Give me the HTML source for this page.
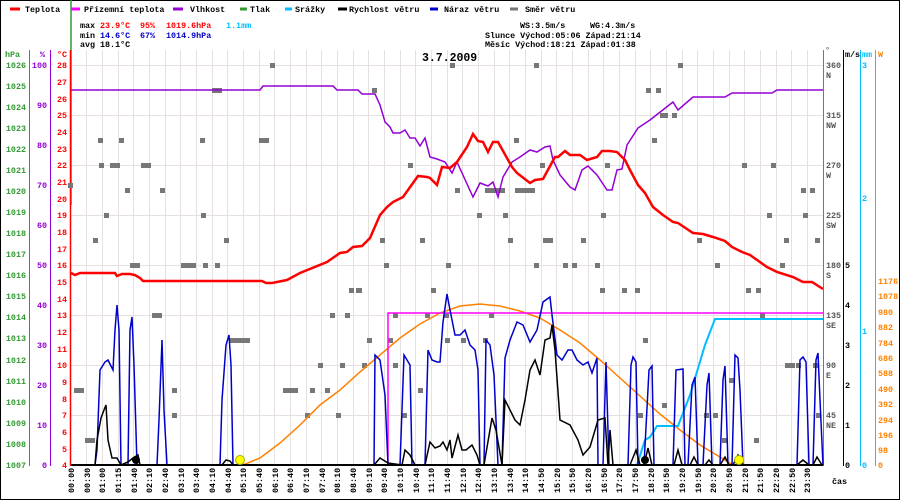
<!DOCTYPE html>
<html><head><meta charset="utf-8"><style>
html,body{margin:0;padding:0;background:#fff}
svg{display:block}
text{font-family:"Liberation Mono",monospace;font-size:8.4px;font-weight:bold}
</style></head><body>
<svg width="900" height="500" viewBox="0 0 900 500" xmlns="http://www.w3.org/2000/svg">
<rect x="0.5" y="0.5" width="899" height="499" fill="#fff" stroke="#000"/>
<!-- grid -->
<g stroke="#e6e0e0" stroke-width="1">
<path d="M86.5 50V465M102.5 50V465M118.5 50V465M133.5 50V465M149.5 50V465M165.5 50V465M180.5 50V465M196.5 50V465M212.5 50V465M227.5 50V465M243.5 50V465M259.5 50V465M274.5 50V465M290.5 50V465M306.5 50V465M321.5 50V465M337.5 50V465M353.5 50V465M368.5 50V465M384.5 50V465M400.5 50V465M415.5 50V465M431.5 50V465M447.5 50V465M462.5 50V465M478.5 50V465M494.5 50V465M509.5 50V465M525.5 50V465M541.5 50V465M556.5 50V465M572.5 50V465M588.5 50V465M603.5 50V465M619.5 50V465M635.5 50V465M650.5 50V465M666.5 50V465M682.5 50V465M697.5 50V465M713.5 50V465M729.5 50V465M744.5 50V465M760.5 50V465M776.5 50V465M791.5 50V465M807.5 50V465"/>
<path d="M71 65.5H823M71 115.5H823M71 165.5H823M71 215.5H823M71 265.5H823M71 315.5H823M71 365.5H823M71 415.5H823"/>
</g>
<!-- legend -->
<g stroke-width="3">
<line x1="10" y1="9" x2="20" y2="9" stroke="#f00"/>
<line x1="71" y1="9" x2="80" y2="9" stroke="#f0f"/>
<line x1="173" y1="9" x2="183" y2="9" stroke="#9400d3"/>
<line x1="240" y1="9" x2="247" y2="9" stroke="#339933"/>
<line x1="285" y1="9" x2="292" y2="9" stroke="#00bfff"/>
<line x1="338" y1="9" x2="347" y2="9" stroke="#000"/>
<line x1="430" y1="9" x2="438" y2="9" stroke="#0000cc"/>
<line x1="510" y1="9" x2="518" y2="9" stroke="#777"/>
</g>
<g fill="#000">
<text x="25" y="12">Teplota</text>
<text x="84" y="12">Přízemní teplota</text>
<text x="190" y="12">Vlhkost</text>
<text x="250" y="12">Tlak</text>
<text x="295" y="12">Srážky</text>
<text x="349" y="12">Rychlost větru</text>
<text x="444" y="12">Náraz větru</text>
<text x="525" y="12">Směr větru</text>
</g>
<line x1="71" y1="0" x2="71" y2="205" stroke="#339933" stroke-width="1.5"/>
<!-- stats -->
<text x="80" y="28">max</text><text x="100" y="28" fill="#f00">23.9°C</text><text x="140" y="28" fill="#f00">95%</text><text x="166" y="28" fill="#f00">1019.6hPa</text><text x="226" y="28" fill="#00bfff">1.1mm</text>
<text x="80" y="38">min</text><text x="100" y="38" fill="#00c">14.6°C</text><text x="140" y="38" fill="#00c">67%</text><text x="166" y="38" fill="#00c">1014.9hPa</text>
<text x="80" y="47">avg</text><text x="100" y="47">18.1°C</text>
<text x="520" y="28">WS:3.5m/s</text><text x="590" y="28">WG:4.3m/s</text>
<text x="485" y="38">Slunce Východ:05:06  Západ:21:14</text>
<text x="485" y="47">Měsíc  Východ:18:21  Západ:01:38</text>
<text x="422" y="61" style="font-size:11.5px;font-weight:bold">3.7.2009</text>
<!-- axes -->
<line x1="29.5" y1="50" x2="29.5" y2="466" stroke="#339933"/>
<line x1="50.5" y1="50" x2="50.5" y2="466" stroke="#9400d3"/>
<line x1="70.5" y1="50" x2="70.5" y2="466" stroke="#f00" stroke-width="1.5"/>
<line x1="823.5" y1="50" x2="823.5" y2="466" stroke="#777"/>
<line x1="843.5" y1="50" x2="843.5" y2="466" stroke="#000"/>
<line x1="860.5" y1="50" x2="860.5" y2="466" stroke="#00bfff"/>
<line x1="875.5" y1="50" x2="875.5" y2="466" stroke="#ff8000"/>
<text x="5" y="57" fill="#339933">hPa</text><text x="40" y="57" fill="#9400d3">%</text><text x="57" y="57" fill="#f00">°C</text>
<text x="825" y="53" fill="#777">°</text><text x="845" y="57">m/s</text><text x="862" y="57" fill="#00bfff">mm</text><text x="878" y="57" fill="#ff8000">W</text>
<g fill="#339933" text-anchor="end">
<text x="26" y="68">1026</text><text x="26" y="89">1025</text><text x="26" y="110">1024</text><text x="26" y="131">1023</text><text x="26" y="152">1022</text><text x="26" y="173">1021</text><text x="26" y="194">1020</text><text x="26" y="215">1019</text><text x="26" y="236">1018</text><text x="26" y="257">1017</text><text x="26" y="278">1016</text><text x="26" y="299">1015</text><text x="26" y="320">1014</text><text x="26" y="341">1013</text><text x="26" y="363">1012</text><text x="26" y="384">1011</text><text x="26" y="405">1010</text><text x="26" y="426">1009</text><text x="26" y="447">1008</text><text x="26" y="468">1007</text>
</g>
<g fill="#9400d3" text-anchor="end">
<text x="47" y="68">100</text><text x="47" y="108">90</text><text x="47" y="148">80</text><text x="47" y="188">70</text><text x="47" y="228">60</text><text x="47" y="268">50</text><text x="47" y="308">40</text><text x="47" y="348">30</text><text x="47" y="388">20</text><text x="47" y="428">10</text><text x="47" y="468">0</text>
</g>
<g fill="#f00" text-anchor="end">
<text x="67" y="68">28</text><text x="67" y="85">27</text><text x="67" y="102">26</text><text x="67" y="118">25</text><text x="67" y="135">24</text><text x="67" y="152">23</text><text x="67" y="168">22</text><text x="67" y="185">21</text><text x="67" y="202">20</text><text x="67" y="218">19</text><text x="67" y="235">18</text><text x="67" y="252">17</text><text x="67" y="268">16</text><text x="67" y="285">15</text><text x="67" y="302">14</text><text x="67" y="318">13</text><text x="67" y="335">12</text><text x="67" y="352">11</text><text x="67" y="368">10</text><text x="67" y="385">9</text><text x="67" y="402">8</text><text x="67" y="418">7</text><text x="67" y="435">6</text><text x="67" y="452">5</text><text x="67" y="468">4</text>
</g>
<g fill="#555">
<text x="826" y="68">360</text><text x="826" y="78">N</text>
<text x="826" y="118">315</text><text x="826" y="128">NW</text>
<text x="826" y="168">270</text><text x="826" y="178">W</text>
<text x="826" y="218">225</text><text x="826" y="228">SW</text>
<text x="826" y="268">180</text><text x="826" y="278">S</text>
<text x="826" y="318">135</text><text x="826" y="328">SE</text>
<text x="826" y="368">90</text><text x="826" y="378">E</text>
<text x="826" y="418">45</text><text x="826" y="428">NE</text>
</g>
<g>
<text x="845" y="268">5</text><text x="845" y="308">4</text><text x="845" y="348">3</text><text x="845" y="388">2</text><text x="845" y="428">1</text><text x="845" y="468">0</text>
</g>
<g fill="#00bfff"><text x="862" y="68">3</text><text x="862" y="201">2</text><text x="862" y="334">1</text><text x="862" y="468">0</text></g>
<g fill="#ff8000">
<text x="878" y="284">1176</text><text x="878" y="299">1078</text><text x="878" y="315">980</text><text x="878" y="330">882</text><text x="878" y="346">784</text><text x="878" y="361">686</text><text x="878" y="376">588</text><text x="878" y="392">490</text><text x="878" y="407">392</text><text x="878" y="423">294</text><text x="878" y="438">196</text><text x="878" y="453">98</text><text x="878" y="468">0</text>
</g>
<text x="832" y="484">čas</text>
<!-- wind direction -->
<g fill="#777">
<rect x="68" y="183" width="5" height="5"/><rect x="74" y="388" width="5" height="5"/><rect x="79" y="388" width="5" height="5"/><rect x="85" y="438" width="5" height="5"/><rect x="90" y="438" width="5" height="5"/><rect x="93" y="238" width="5" height="5"/><rect x="98" y="138" width="5" height="5"/><rect x="104" y="213" width="5" height="5"/><rect x="99" y="163" width="5" height="5"/><rect x="110" y="163" width="5" height="5"/><rect x="115" y="163" width="5" height="5"/><rect x="119" y="138" width="5" height="5"/><rect x="125" y="188" width="5" height="5"/><rect x="130" y="263" width="5" height="5"/><rect x="135" y="263" width="5" height="5"/><rect x="141" y="163" width="5" height="5"/><rect x="146" y="163" width="5" height="5"/><rect x="152" y="313" width="5" height="5"/><rect x="157" y="313" width="5" height="5"/><rect x="172" y="413" width="5" height="5"/><rect x="172" y="388" width="5" height="5"/><rect x="181" y="263" width="5" height="5"/><rect x="186" y="263" width="5" height="5"/><rect x="191" y="263" width="5" height="5"/><rect x="201" y="213" width="5" height="5"/><rect x="160" y="188" width="5" height="5"/><rect x="212" y="88" width="5" height="5"/><rect x="217" y="88" width="5" height="5"/><rect x="230" y="338" width="5" height="5"/><rect x="235" y="338" width="5" height="5"/><rect x="240" y="338" width="5" height="5"/><rect x="245" y="338" width="5" height="5"/><rect x="224" y="238" width="5" height="5"/><rect x="200" y="138" width="5" height="5"/><rect x="259" y="138" width="5" height="5"/><rect x="264" y="138" width="5" height="5"/><rect x="270" y="63" width="5" height="5"/><rect x="203" y="263" width="5" height="5"/><rect x="215" y="263" width="5" height="5"/><rect x="283" y="388" width="5" height="5"/><rect x="288" y="388" width="5" height="5"/><rect x="293" y="388" width="5" height="5"/><rect x="305" y="413" width="5" height="5"/><rect x="310" y="388" width="5" height="5"/><rect x="318" y="363" width="5" height="5"/><rect x="325" y="388" width="5" height="5"/><rect x="330" y="313" width="5" height="5"/><rect x="336" y="413" width="5" height="5"/><rect x="340" y="363" width="5" height="5"/><rect x="345" y="313" width="5" height="5"/><rect x="349" y="288" width="5" height="5"/><rect x="356" y="288" width="5" height="5"/><rect x="362" y="363" width="5" height="5"/><rect x="367" y="338" width="5" height="5"/><rect x="372" y="88" width="5" height="5"/><rect x="357" y="288" width="5" height="5"/><rect x="380" y="238" width="5" height="5"/><rect x="388" y="338" width="5" height="5"/><rect x="393" y="363" width="5" height="5"/><rect x="393" y="313" width="5" height="5"/><rect x="408" y="163" width="5" height="5"/><rect x="384" y="263" width="5" height="5"/><rect x="418" y="388" width="5" height="5"/><rect x="425" y="313" width="5" height="5"/><rect x="444" y="313" width="5" height="5"/><rect x="402" y="413" width="5" height="5"/><rect x="420" y="238" width="5" height="5"/><rect x="446" y="263" width="5" height="5"/><rect x="431" y="288" width="5" height="5"/><rect x="445" y="338" width="5" height="5"/><rect x="461" y="338" width="5" height="5"/><rect x="483" y="338" width="5" height="5"/><rect x="489" y="313" width="5" height="5"/><rect x="450" y="63" width="5" height="5"/><rect x="455" y="188" width="5" height="5"/><rect x="485" y="188" width="5" height="5"/><rect x="490" y="188" width="5" height="5"/><rect x="495" y="188" width="5" height="5"/><rect x="500" y="188" width="5" height="5"/><rect x="503" y="213" width="5" height="5"/><rect x="477" y="213" width="5" height="5"/><rect x="508" y="238" width="5" height="5"/><rect x="514" y="138" width="5" height="5"/><rect x="515" y="188" width="5" height="5"/><rect x="520" y="188" width="5" height="5"/><rect x="525" y="188" width="5" height="5"/><rect x="530" y="188" width="5" height="5"/><rect x="534" y="63" width="5" height="5"/><rect x="540" y="163" width="5" height="5"/><rect x="543" y="238" width="5" height="5"/><rect x="548" y="238" width="5" height="5"/><rect x="534" y="263" width="5" height="5"/><rect x="563" y="263" width="5" height="5"/><rect x="572" y="263" width="5" height="5"/><rect x="581" y="238" width="5" height="5"/><rect x="595" y="263" width="5" height="5"/><rect x="600" y="288" width="5" height="5"/><rect x="605" y="163" width="5" height="5"/><rect x="622" y="288" width="5" height="5"/><rect x="635" y="288" width="5" height="5"/><rect x="601" y="213" width="5" height="5"/><rect x="646" y="88" width="5" height="5"/><rect x="652" y="138" width="5" height="5"/><rect x="660" y="113" width="5" height="5"/><rect x="663" y="113" width="5" height="5"/><rect x="672" y="113" width="5" height="5"/><rect x="678" y="63" width="5" height="5"/><rect x="656" y="88" width="5" height="5"/><rect x="697" y="238" width="5" height="5"/><rect x="715" y="263" width="5" height="5"/><rect x="722" y="438" width="5" height="5"/><rect x="742" y="163" width="5" height="5"/><rect x="746" y="288" width="5" height="5"/><rect x="756" y="288" width="5" height="5"/><rect x="760" y="313" width="5" height="5"/><rect x="767" y="213" width="5" height="5"/><rect x="771" y="163" width="5" height="5"/><rect x="780" y="263" width="5" height="5"/><rect x="784" y="238" width="5" height="5"/><rect x="803" y="213" width="5" height="5"/><rect x="796" y="363" width="5" height="5"/><rect x="801" y="188" width="5" height="5"/><rect x="810" y="188" width="5" height="5"/><rect x="815" y="238" width="5" height="5"/><rect x="816" y="413" width="5" height="5"/><rect x="813" y="363" width="5" height="5"/><rect x="662" y="403" width="5" height="5"/><rect x="638" y="413" width="5" height="5"/><rect x="643" y="338" width="5" height="5"/><rect x="704" y="413" width="5" height="5"/><rect x="713" y="413" width="5" height="5"/><rect x="729" y="378" width="5" height="5"/><rect x="754" y="438" width="5" height="5"/><rect x="785" y="363" width="5" height="5"/><rect x="790" y="363" width="5" height="5"/>
</g>
<!-- solar -->
<path d="M243 465 L260 458 L280 443 L300 425 L320 405 L340 390 L360 372 L380 355 L400 338 L420 324 L440 313 L460 306 L480 304 L500 306 L520 311 L540 318 L560 330 L580 343 L600 360 L620 378 L640 396 L660 414 L680 430 L700 445 L720 457 L733 465 L823 465" fill="none" stroke="#ff8000" stroke-width="1.5"/>
<!-- precipitation -->
<path d="M71 465 L637 465 L645 440 L650 437 L657 426 L678 426 L690 395 L705 345 L715 319 L823 319" fill="none" stroke="#00bfff" stroke-width="2"/>
<!-- apparent temperature -->
<path d="M388 465 L388 313 L823 313" fill="none" stroke="#f0f" stroke-width="1.5"/>
<!-- gust -->
<path d="M71 465 L95 465 L97 450 L100 370 L105 362 L108 360 L111 366 L113 370 L115 330 L117 305 L119 330 L121 465 L128 465 L130 330 L132 317 L134 365 L137 465 L157 465 L159 420 L162 340 L164 410 L167 465 L220 465 L222 400 L226 345 L229 335 L231 365 L233 465 L374 465 L375 355 L380 360 L385 395 L388 465 L400 465 L404 355 L410 365 L412 465 L425 465 L428 350 L432 360 L437 362 L440 362 L443 322 L447 294 L450 310 L455 335 L460 335 L465 330 L470 345 L475 350 L478 370 L480 465 L484 465 L486 340 L490 345 L494 375 L498 465 L502 465 L505 358 L510 340 L517 322 L523 325 L530 342 L537 330 L543 302 L550 297 L552 315 L557 355 L562 360 L568 350 L572 350 L577 360 L583 365 L588 362 L592 373 L597 358 L598 465 L603 465 L606 362 L609 465 L628 465 L631 365 L633 357 L636 362 L638 465 L644 465 L649 370 L652 366 L654 465 L673 465 L676 370 L683 369 L685 465 L688 465 L692 385 L695 377 L698 465 L703 465 L707 385 L709 373 L712 465 L720 465 L723 380 L725 366 L728 465 L732 465 L735 355 L738 358 L740 390 L743 465 L797 465 L800 360 L803 357 L806 362 L809 465 L813 465 L816 360 L818 353 L820 400 L823 465" fill="none" stroke="#0000cc" stroke-width="1.5"/>
<!-- wind speed -->
<path d="M71 465 L95 465 L97 440 L101 418 L104 410 L106 405 L108 440 L112 458 L117 458 L121 465 L128 462 L133 458 L138 455 L140 465 L222 465 L226 460 L230 461 L233 465 L374 465 L380 458 L388 463 L402 465 L405 450 L410 455 L415 465 L425 465 L430 442 L435 448 L440 446 L443 442 L447 450 L450 440 L452 458 L458 435 L462 450 L466 450 L472 445 L477 455 L480 465 L484 465 L492 418 L496 430 L502 465 L505 400 L510 410 L515 420 L520 425 L525 400 L530 370 L535 360 L540 375 L545 340 L550 338 L552 325 L555 350 L560 420 L570 425 L578 440 L583 455 L590 447 L598 420 L605 418 L608 465 L610 430 L613 465 L630 465 L636 450 L640 465 L644 465 L648 448 L652 465 L674 465 L678 450 L682 465 L690 465 L694 457 L698 465 L705 465 L709 460 L713 465 L720 465 L725 457 L729 465 L733 465 L738 455 L743 465 L797 465 L803 460 L809 465 L813 465 L817 457 L822 465" fill="none" stroke="#000" stroke-width="1.5"/>
<line x1="71" y1="465" x2="823" y2="465" stroke="#000" stroke-width="2"/>
<!-- humidity -->
<path d="M71 90 L260 90 L263 86 L333 86 L337 90 L358 90 L362 94 L375 94 L380 105 L385 122 L390 127 L393 133 L400 133 L405 130 L410 138 L415 138 L420 146 L425 138 L430 157 L437 159 L445 162 L452 173 L457 162 L473 197 L480 183 L488 186 L493 182 L498 197 L503 177 L512 162 L520 157 L530 150 L537 152 L545 147 L550 146 L553 160 L560 175 L570 187 L575 190 L582 170 L588 166 L597 175 L607 190 L612 190 L617 170 L622 169 L627 145 L638 128 L650 120 L673 102 L678 110 L693 97 L725 97 L732 93 L772 93 L777 90 L823 90" fill="none" stroke="#9400d3" stroke-width="1.5"/>
<!-- temperature -->
<path d="M71 273 L75 275 L80 273 L115 273 L117 276 L122 274 L130 274 L135 275 L140 278 L143 281 L262 281 L266 283 L272 283 L287 280 L300 273 L327 262 L340 253 L347 252 L353 247 L362 246 L370 238 L380 215 L387 207 L393 202 L403 197 L413 183 L418 176 L427 177 L430 178 L437 185 L442 167 L450 168 L457 162 L467 147 L473 134 L478 141 L483 142 L488 152 L493 142 L498 142 L512 167 L517 173 L530 183 L535 180 L543 179 L555 157 L558 157 L565 151 L570 155 L580 155 L587 160 L597 157 L602 151 L610 151 L617 152 L625 160 L630 170 L638 185 L645 193 L653 207 L663 215 L673 222 L678 223 L693 233 L703 234 L713 237 L725 241 L732 247 L742 252 L750 255 L767 267 L777 272 L793 277 L803 282 L812 282 L823 289" fill="none" stroke="#f00" stroke-width="2.5"/>
<!-- sun/moon -->
<circle cx="136" cy="460" r="4" fill="#000"/><circle cx="645" cy="460" r="4" fill="#000"/>
<circle cx="240" cy="460" r="4.5" fill="#ff0" stroke="#aa0"/><circle cx="739" cy="460" r="4.5" fill="#ff0" stroke="#aa0"/>
<!-- time labels -->
<g fill="#000">
<text transform="translate(74,493) rotate(-90)">00:00</text><text transform="translate(90,493) rotate(-90)">00:30</text><text transform="translate(105,493) rotate(-90)">01:00</text><text transform="translate(121,493) rotate(-90)">01:15</text><text transform="translate(137,493) rotate(-90)">01:40</text><text transform="translate(152,493) rotate(-90)">02:10</text><text transform="translate(168,493) rotate(-90)">02:40</text><text transform="translate(184,493) rotate(-90)">03:10</text><text transform="translate(199,493) rotate(-90)">03:40</text><text transform="translate(215,493) rotate(-90)">04:10</text><text transform="translate(231,493) rotate(-90)">04:40</text><text transform="translate(246,493) rotate(-90)">05:10</text><text transform="translate(262,493) rotate(-90)">05:40</text><text transform="translate(278,493) rotate(-90)">06:10</text><text transform="translate(293,493) rotate(-90)">06:40</text><text transform="translate(309,493) rotate(-90)">07:10</text><text transform="translate(325,493) rotate(-90)">07:40</text><text transform="translate(340,493) rotate(-90)">08:10</text><text transform="translate(356,493) rotate(-90)">08:40</text><text transform="translate(372,493) rotate(-90)">09:10</text><text transform="translate(387,493) rotate(-90)">09:40</text><text transform="translate(403,493) rotate(-90)">10:10</text><text transform="translate(419,493) rotate(-90)">10:40</text><text transform="translate(434,493) rotate(-90)">11:10</text><text transform="translate(450,493) rotate(-90)">11:40</text><text transform="translate(466,493) rotate(-90)">12:10</text><text transform="translate(481,493) rotate(-90)">12:40</text><text transform="translate(497,493) rotate(-90)">13:10</text><text transform="translate(513,493) rotate(-90)">13:40</text><text transform="translate(528,493) rotate(-90)">14:10</text><text transform="translate(544,493) rotate(-90)">14:50</text><text transform="translate(560,493) rotate(-90)">15:20</text><text transform="translate(575,493) rotate(-90)">15:50</text><text transform="translate(591,493) rotate(-90)">16:20</text><text transform="translate(607,493) rotate(-90)">16:50</text><text transform="translate(622,493) rotate(-90)">17:20</text><text transform="translate(638,493) rotate(-90)">17:50</text><text transform="translate(654,493) rotate(-90)">18:20</text><text transform="translate(669,493) rotate(-90)">18:50</text><text transform="translate(685,493) rotate(-90)">19:20</text><text transform="translate(701,493) rotate(-90)">19:50</text><text transform="translate(716,493) rotate(-90)">20:20</text><text transform="translate(732,493) rotate(-90)">20:50</text><text transform="translate(748,493) rotate(-90)">21:20</text><text transform="translate(763,493) rotate(-90)">21:50</text><text transform="translate(779,493) rotate(-90)">22:20</text><text transform="translate(795,493) rotate(-90)">22:50</text><text transform="translate(810,493) rotate(-90)">23:30</text>
</g>
</svg>
</body></html>
